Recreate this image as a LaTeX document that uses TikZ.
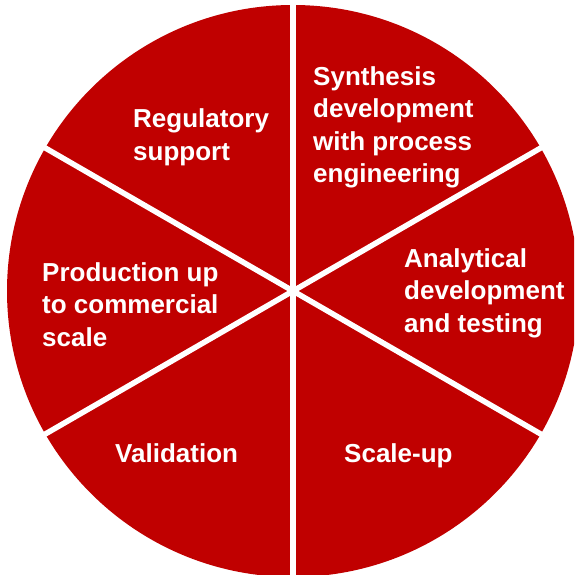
\documentclass[tikz,border=0pt]{standalone}
\usepackage{fontspec}
\setmainfont{Liberation Sans}
\usetikzlibrary{calc}
\definecolor{wheelred}{RGB}{192,0,0}
\begin{document}
\begin{tikzpicture}[x=1pt, y=-1pt, line cap=butt]
	\tikzset{every node/.style={text=white, inner sep=0pt, anchor=base west, align=left, font=\fontsize{26}{32.5}\selectfont\bfseries}}
	\useasboundingbox (0,0) rectangle (574,575);
	\clip (0,0) rectangle (574,575);
	\coordinate (hub) at (293,291);
	\fill[wheelred] (hub) circle (286);
	\foreach \a in {90,30,150}
	\draw[white, line width=5.5pt] ($(hub)+(\a:300)$) -- ($(hub)+(\a+180:300)$);
	\node (regulatory) at (133,160.5) {Regulatory\\support};
	\node (synthesis) at (313,182.5) {Synthesis\\development\\with process\\engineering};
	\node (analytical) at (404,332) {Analytical\\development\\and testing};
	\node (scaleup) at (344,462) {Scale-up};
	\node (validation) at (115,462) {Validation};
	\node (production) at (42,346) {Production up\\to commercial\\scale};
\end{tikzpicture}
\end{document}
